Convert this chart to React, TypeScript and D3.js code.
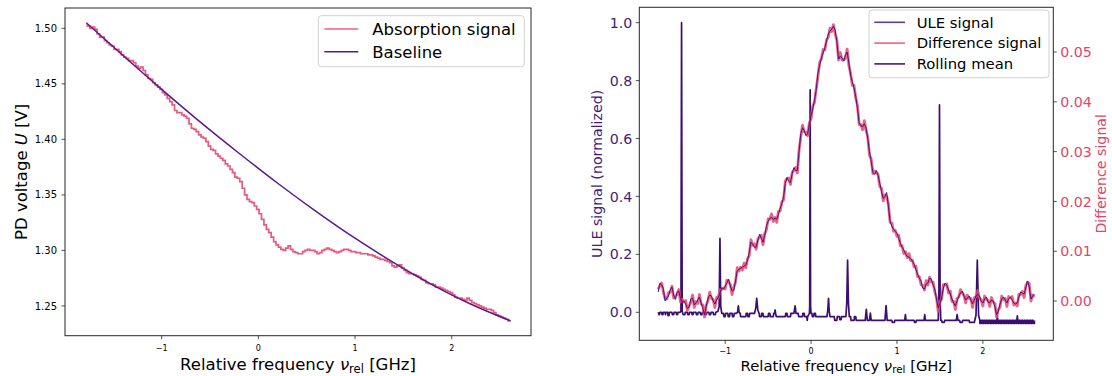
import React from "react";
import * as d3 from "d3";

const FONT = "'DejaVu Sans', sans-serif";

// ---------- Left panel data ----------
const ABS_START = -1.78;
const ABS_STEP = 0.025;
const absorptionSignal = [
  1.503, 1.502, 1.500, 1.501, 1.499, 1.495, 1.492, 1.492, 1.489, 1.487,
  1.485, 1.484, 1.481, 1.481, 1.479, 1.476, 1.474, 1.473, 1.471, 1.471,
  1.469, 1.466, 1.464, 1.465, 1.462, 1.458, 1.455, 1.454, 1.451, 1.449,
  1.447, 1.445, 1.442, 1.440, 1.437, 1.434, 1.431, 1.426, 1.424, 1.424,
  1.422, 1.421, 1.419, 1.414, 1.410, 1.409, 1.407, 1.404, 1.402, 1.401,
  1.398, 1.394, 1.391, 1.390, 1.387, 1.385, 1.383, 1.381, 1.378, 1.376,
  1.373, 1.370, 1.366, 1.365, 1.362, 1.356, 1.350, 1.346, 1.344, 1.343,
  1.340, 1.337, 1.333, 1.328, 1.323, 1.319, 1.316, 1.312, 1.308, 1.305,
  1.303, 1.301, 1.300, 1.302, 1.304, 1.301, 1.299, 1.298, 1.297, 1.297,
  1.299, 1.300, 1.301, 1.300, 1.300, 1.299, 1.297, 1.298, 1.300, 1.301,
  1.302, 1.301, 1.300, 1.299, 1.298, 1.299, 1.300, 1.301, 1.301, 1.300,
  1.299, 1.299, 1.298, 1.298, 1.297, 1.297, 1.297, 1.296, 1.296, 1.295,
  1.294, 1.293, 1.292, 1.292, 1.291, 1.290, 1.289, 1.286, 1.285, 1.286,
  1.287, 1.284, 1.282, 1.280, 1.279, 1.279, 1.278, 1.277, 1.276, 1.274,
  1.273, 1.271, 1.270, 1.270, 1.269, 1.267, 1.267, 1.266, 1.265, 1.264,
  1.263, 1.262, 1.260, 1.258, 1.257, 1.257, 1.256, 1.255, 1.257, 1.255,
  1.253, 1.252, 1.251, 1.250, 1.249, 1.248, 1.247, 1.247, 1.246, 1.244,
  1.242, 1.241, 1.240, 1.239, 1.238, 1.2365,
];

const baseline: [number, number][] = [
  [-1.78, 1.505], [-1.4, 1.4755], [-1.0, 1.445], [-0.6, 1.4155], [-0.2, 1.3875],
  [0.2, 1.3605], [0.6, 1.335], [1.0, 1.311], [1.4, 1.289], [1.8, 1.269],
  [2.2, 1.2515], [2.61, 1.2365],
];

// ---------- Right panel data ----------
const DIFF_START = -1.78;
const DIFF_STEP = 0.02;
const differenceSignal = [
  0.0024, 0.0031, 0.0036, 0.0018, 0.0005, 0.0004, 0.0017, 0.0018, 0.0030, 0.0006,
  0.0009, 0.0013, 0.0023, -0.0002, 0.0003, -0.0002, 0.0001, -0.0019, -0.0010, -0.0002,
  0.0012, -0.0013, -0.0001, -0.0005, 0.0013, -0.0006, -0.0008, -0.0032, -0.0008, 0.0000,
  0.0018, 0.0005, 0.0003, -0.0013, 0.0007, 0.0006, 0.0023, 0.0023, 0.0026, 0.0024,
  0.0042, 0.0039, 0.0033, 0.0013, 0.0027, 0.0038, 0.0067, 0.0060, 0.0068, 0.0062,
  0.0076, 0.0067, 0.0085, 0.0091, 0.0123, 0.0112, 0.0115, 0.0104, 0.0124, 0.0128,
  0.0132, 0.0113, 0.0135, 0.0143, 0.0165, 0.0164, 0.0175, 0.0160, 0.0168, 0.0158,
  0.0180, 0.0181, 0.0199, 0.0203, 0.0241, 0.0246, 0.0247, 0.0234, 0.0258, 0.0262,
  0.0268, 0.0257, 0.0303, 0.0329, 0.0353, 0.0340, 0.0339, 0.0332, 0.0358, 0.0366,
  0.0392, 0.0399, 0.0427, 0.0451, 0.0479, 0.0486, 0.0505, 0.0504, 0.0524, 0.0530,
  0.0548, 0.0541, 0.0555, 0.0537, 0.0525, 0.0484, 0.0499, 0.0484, 0.0484, 0.0488,
  0.0506, 0.0473, 0.0457, 0.0433, 0.0433, 0.0408, 0.0393, 0.0354, 0.0354, 0.0344,
  0.0362, 0.0343, 0.0329, 0.0293, 0.0285, 0.0256, 0.0261, 0.0258, 0.0254, 0.0230,
  0.0226, 0.0201, 0.0213, 0.0211, 0.0195, 0.0158, 0.0157, 0.0140, 0.0142, 0.0130,
  0.0132, 0.0111, 0.0111, 0.0095, 0.0099, 0.0087, 0.0095, 0.0081, 0.0082, 0.0068,
  0.0070, 0.0049, 0.0049, 0.0033, 0.0031, 0.0022, 0.0041, 0.0032, 0.0048, 0.0038,
  0.0038, 0.0019, 0.0007, -0.0021, -0.0001, 0.0004, 0.0033, 0.0032, 0.0034, 0.0016,
  0.0020, -0.0001, -0.0001, -0.0017, 0.0005, 0.0008, 0.0023, 0.0016, 0.0012, -0.0004,
  0.0012, 0.0005, 0.0005, -0.0013, 0.0007, 0.0008, 0.0021, 0.0006, 0.0002, -0.0010,
  0.0010, 0.0003, 0.0001, -0.0011, 0.0007, -0.0002, -0.0005, -0.0032, -0.0018, -0.0012,
  0.0010, 0.0003, 0.0005, -0.0011, 0.0009, 0.0006, 0.0009, -0.0008, -0.0004, -0.0010,
  0.0014, 0.0013, 0.0019, 0.0007, 0.0031, 0.0038, 0.0035, 0.0000, 0.0012, 0.0008,
];

const rollingMean = [
  0.0018, 0.0036, 0.0033, 0.0025, 0.0000, 0.0006, 0.0010, 0.0022, 0.0028, 0.0012,
  0.0003, 0.0018, 0.0020, 0.0005, -0.0002, 0.0000, -0.0006, -0.0015, -0.0012, 0.0004,
  0.0006, -0.0008, -0.0004, 0.0002, 0.0008, -0.0004, -0.0015, -0.0028, -0.0010, 0.0006,
  0.0012, 0.0010, 0.0000, -0.0006, 0.0002, 0.0008, 0.0016, 0.0027, 0.0024, 0.0030,
  0.0036, 0.0044, 0.0030, 0.0020, 0.0022, 0.0040, 0.0060, 0.0064, 0.0066, 0.0068,
  0.0070, 0.0072, 0.0082, 0.0098, 0.0118, 0.0114, 0.0108, 0.0108, 0.0122, 0.0134,
  0.0126, 0.0118, 0.0132, 0.0150, 0.0160, 0.0166, 0.0168, 0.0164, 0.0166, 0.0164,
  0.0174, 0.0186, 0.0196, 0.0210, 0.0236, 0.0248, 0.0240, 0.0238, 0.0256, 0.0268,
  0.0262, 0.0262, 0.0300, 0.0336, 0.0348, 0.0342, 0.0332, 0.0336, 0.0356, 0.0372,
  0.0386, 0.0404, 0.0424, 0.0458, 0.0474, 0.0488, 0.0498, 0.0508, 0.0522, 0.0536,
  0.0542, 0.0546, 0.0552, 0.0544, 0.0520, 0.0486, 0.0492, 0.0488, 0.0482, 0.0494,
  0.0500, 0.0478, 0.0454, 0.0440, 0.0428, 0.0410, 0.0386, 0.0358, 0.0352, 0.0350,
  0.0356, 0.0348, 0.0326, 0.0300, 0.0280, 0.0258, 0.0254, 0.0262, 0.0252, 0.0236,
  0.0220, 0.0206, 0.0210, 0.0218, 0.0190, 0.0160, 0.0150, 0.0144, 0.0140, 0.0136,
  0.0126, 0.0116, 0.0108, 0.0102, 0.0094, 0.0089, 0.0088, 0.0085, 0.0080, 0.0074,
  0.0064, 0.0054, 0.0046, 0.0040, 0.0026, 0.0024, 0.0034, 0.0036, 0.0046, 0.0044,
  0.0032, 0.0024, 0.0004, -0.0014, -0.0006, 0.0006, 0.0026, 0.0036, 0.0032, 0.0022,
  0.0014, 0.0004, -0.0004, -0.0010, 0.0000, 0.0010, 0.0016, 0.0020, 0.0010, 0.0002,
  0.0006, 0.0010, 0.0002, -0.0006, 0.0002, 0.0010, 0.0014, 0.0010, 0.0000, -0.0004,
  0.0004, 0.0008, -0.0002, -0.0004, 0.0002, 0.0000, -0.0012, -0.0028, -0.0020, -0.0006,
  0.0004, 0.0008, 0.0002, -0.0004, 0.0004, 0.0008, 0.0002, -0.0004, -0.0006, -0.0004,
  0.0008, 0.0018, 0.0016, 0.0014, 0.0026, 0.0040, 0.0028, 0.0004, 0.0010, 0.0014,
];

const uleSignal: [number, number][] = [
  [-1.78, 0], [-1.77, -0.008], [-1.765, -0.008], [-1.76, 0], [-1.74, 0], [-1.735, -0.008], [-1.725, -0.008],
  [-1.72, 0], [-1.70, 0], [-1.695, -0.008], [-1.69, 0], [-1.67, 0], [-1.665, -0.012], [-1.655, -0.012],
  [-1.65, 0], [-1.62, 0], [-1.615, -0.008], [-1.60, -0.008], [-1.595, 0], [-1.57, 0], [-1.565, -0.008],
  [-1.555, -0.008], [-1.55, 0], [-1.525, 0],
  [-1.515, 0.004], [-1.508, 1.0], [-1.501, 0.004],
  [-1.49, -0.008], [-1.47, -0.008], [-1.465, 0], [-1.44, 0], [-1.435, -0.008], [-1.42, -0.008], [-1.415, 0],
  [-1.39, 0], [-1.385, -0.008], [-1.375, -0.008], [-1.37, 0], [-1.34, 0], [-1.335, -0.008], [-1.32, -0.008],
  [-1.315, 0], [-1.29, 0], [-1.285, -0.008], [-1.27, -0.008], [-1.265, 0], [-1.24, 0], [-1.235, -0.008],
  [-1.22, -0.008], [-1.215, 0], [-1.19, 0], [-1.185, -0.008], [-1.17, -0.008], [-1.165, 0], [-1.14, 0],
  [-1.135, -0.008], [-1.115, -0.008], [-1.11, 0], [-1.085, 0.003],
  [-1.07, 0.02], [-1.061, 0.255], [-1.052, 0.02],
  [-1.04, -0.004], [-1.02, -0.004], [-1.015, -0.015], [-1.0, -0.015], [-0.995, -0.004], [-0.97, -0.004],
  [-0.965, -0.015], [-0.95, -0.015], [-0.945, -0.004], [-0.92, -0.004], [-0.915, -0.015], [-0.90, -0.015],
  [-0.895, -0.004], [-0.87, -0.004], [-0.856, 0.0], [-0.847, 0.022], [-0.838, 0.0], [-0.825, -0.004],
  [-0.82, -0.015], [-0.76, -0.015], [-0.755, -0.004], [-0.74, -0.004], [-0.735, -0.015], [-0.72, -0.015],
  [-0.715, -0.004], [-0.66, -0.004], [-0.645, 0.012], [-0.633, 0.048], [-0.62, 0.008], [-0.605, -0.004],
  [-0.60, -0.015], [-0.58, -0.015], [-0.575, -0.004], [-0.56, -0.004], [-0.555, -0.015], [-0.50, -0.015],
  [-0.495, -0.004], [-0.48, -0.004], [-0.475, -0.015], [-0.44, -0.015], [-0.435, -0.004], [-0.425, -0.004],
  [-0.419, 0.008], [-0.413, -0.004], [-0.405, -0.015], [-0.30, -0.015], [-0.295, -0.004], [-0.28, -0.004],
  [-0.275, -0.015], [-0.24, -0.015], [-0.235, -0.004], [-0.20, -0.004], [-0.186, 0.022], [-0.175, -0.004],
  [-0.15, -0.004], [-0.145, -0.015], [-0.10, -0.015], [-0.095, -0.004], [-0.08, -0.004], [-0.075, -0.015],
  [-0.05, -0.015], [-0.045, -0.028], [-0.04, -0.015], [-0.02, -0.004],
  [-0.016, 0.02], [-0.011, 0.768], [-0.006, 0.02],
  [0.0, -0.004], [0.01, -0.004], [0.015, -0.015], [0.03, -0.015], [0.035, -0.004], [0.05, -0.004],
  [0.055, -0.015], [0.185, -0.015], [0.195, 0.008], [0.203, 0.048], [0.211, 0.004], [0.22, -0.015],
  [0.27, -0.015], [0.275, -0.028], [0.30, -0.028], [0.305, -0.015], [0.33, -0.015], [0.335, -0.025],
  [0.35, -0.025], [0.355, -0.015], [0.405, -0.015],
  [0.415, 0.03], [0.425, 0.18], [0.435, 0.03],
  [0.445, -0.015], [0.46, -0.015], [0.465, -0.028], [0.50, -0.028], [0.505, -0.015], [0.52, -0.015],
  [0.525, -0.028], [0.63, -0.028], [0.643, 0.01], [0.655, -0.028], [0.68, -0.028], [0.69, -0.003],
  [0.70, -0.028], [0.86, -0.028], [0.873, 0.023], [0.886, -0.028], [0.94, -0.028], [0.945, -0.035],
  [0.97, -0.035], [0.975, -0.028], [1.09, -0.028], [1.098, -0.008], [1.106, -0.028], [1.20, -0.028],
  [1.205, -0.035], [1.22, -0.035], [1.225, -0.028], [1.315, -0.028], [1.323, -0.008], [1.331, -0.028],
  [1.48, -0.028],
  [1.488, 0.05], [1.495, 0.716], [1.502, 0.05],
  [1.51, -0.028], [1.52, -0.028], [1.525, -0.035], [1.55, -0.035], [1.555, -0.028], [1.69, -0.028],
  [1.70, -0.008], [1.71, -0.028], [1.73, -0.028], [1.735, -0.035], [1.76, -0.035], [1.765, -0.028],
  [1.84, -0.028], [1.845, -0.035], [1.90, -0.035],
  [1.92, -0.01], [1.935, 0.18], [1.95, -0.01],
  [1.965, -0.028], [1.965, -0.038], [1.98, -0.038], [1.98, -0.028], [1.995, -0.028], [1.995, -0.038],
  [2.01, -0.038], [2.01, -0.028], [2.025, -0.028], [2.025, -0.038], [2.04, -0.038], [2.04, -0.028],
  [2.055, -0.028], [2.055, -0.038], [2.07, -0.038], [2.07, -0.028], [2.085, -0.028], [2.085, -0.038],
  [2.10, -0.038], [2.10, -0.028], [2.115, -0.028], [2.115, -0.038], [2.13, -0.038], [2.13, -0.028],
  [2.145, -0.028], [2.145, -0.038], [2.16, -0.038], [2.168, -0.012], [2.176, -0.038], [2.19, -0.038],
  [2.19, -0.028], [2.205, -0.028], [2.205, -0.038], [2.22, -0.038], [2.22, -0.028], [2.235, -0.028],
  [2.235, -0.038], [2.25, -0.038], [2.25, -0.028], [2.265, -0.028], [2.265, -0.038], [2.28, -0.038],
  [2.28, -0.028], [2.295, -0.028], [2.295, -0.038], [2.31, -0.038], [2.31, -0.028], [2.325, -0.028],
  [2.325, -0.038], [2.34, -0.038], [2.34, -0.028], [2.355, -0.028], [2.355, -0.038], [2.37, -0.038],
  [2.37, -0.028], [2.385, -0.028], [2.385, -0.038], [2.393, -0.038], [2.401, -0.012], [2.409, -0.038],
  [2.42, -0.038], [2.42, -0.028], [2.435, -0.028], [2.435, -0.038], [2.45, -0.038], [2.45, -0.028],
  [2.465, -0.028], [2.465, -0.038], [2.48, -0.038], [2.48, -0.028], [2.495, -0.028], [2.495, -0.038],
  [2.51, -0.038], [2.51, -0.028], [2.525, -0.028], [2.525, -0.038], [2.54, -0.038], [2.54, -0.028],
  [2.555, -0.028], [2.555, -0.038], [2.57, -0.038], [2.57, -0.028], [2.585, -0.028], [2.585, -0.038],
  [2.60, -0.038], [2.60, -0.028],
];

const freqTicks = [-1, 0, 1, 2];
const voltageTicks = [1.25, 1.3, 1.35, 1.4, 1.45, 1.5];
const uleTicks = [0, 0.2, 0.4, 0.6, 0.8, 1.0];
const diffTicks = [0, 0.01, 0.02, 0.03, 0.04, 0.05];

const C_ABS = "#e6486e";
const C_BASE = "#5a1a8e";
const C_ULE = "#3b0f70";
const C_DIFF = "#e6486e";
const C_ROLL = "#51127c";
const C_ULE_TXT = "#3f1d78";
const C_DIFF_TXT = "#e0466b";
const SPINE = "#262626";

const fmtFreq = (d: number) => (d < 0 ? "\u2212" + Math.abs(d) : String(d));

function FreqLabel({ x, y, size }: { x: number; y: number; size: number }) {
  return (
    <text x={x} y={y} fontSize={size} textAnchor="middle" fontFamily={FONT} fill="#000">
      Relative frequency{" "}
      <tspan fontStyle="italic">ν</tspan>
      <tspan fontSize={size * 0.7} dy={size * 0.2}>rel</tspan>
      <tspan dy={-size * 0.2}> [GHz]</tspan>
    </text>
  );
}

function Legend({ x, y, w, h, items, fs, rowH, firstY, lx0, lx1, tx }: any) {
  return (
    <g>
      <rect x={x} y={y} width={w} height={h} rx={3} fill="#fff" fillOpacity={0.8} stroke="#d0d0d0" strokeWidth={1} />
      {items.map((it: any, i: number) => {
        const cy = y + firstY + i * rowH;
        return (
          <g key={i}>
            <line x1={x + lx0} x2={x + lx1} y1={cy} y2={cy} stroke={it.color} strokeWidth={it.w ?? 1.6} strokeOpacity={it.op ?? 1} />
            <text x={x + tx} y={cy + fs * 0.36} fontSize={fs} fontFamily={FONT} fill="#000">{it.label}</text>
          </g>
        );
      })}
    </g>
  );
}

export default function App() {
  // Left panel
  const L = { x0: 65, x1: 531, y0: 8, y1: 335.7 };
  const xL = d3.scaleLinear().domain([-2.0, 2.82]).range([L.x0, L.x1]);
  const yL = d3.scaleLinear().domain([1.2232, 1.5183]).range([L.y1, L.y0]);

  const absPts: [number, number][] = absorptionSignal.map((v, i) => [ABS_START + i * ABS_STEP, v]);
  const absPath = d3.line<[number, number]>().x((d) => xL(d[0])).y((d) => yL(d[1])).curve(d3.curveStep)(absPts) || "";
  const basePath = d3.line<[number, number]>().x((d) => xL(d[0])).y((d) => yL(d[1])).curve(d3.curveMonotoneX)(baseline) || "";

  // Right panel
  const R = { x0: 639.3, x1: 1053.3, y0: 7.3, y1: 340.3 };
  const xR = d3.scaleLinear().domain([-2.0, 2.82]).range([R.x0, R.x1]);
  const yU = d3.scaleLinear().domain([-0.0967, 1.053]).range([R.y1, R.y0]);
  const yD = d3.scaleLinear().domain([-0.00789, 0.05898]).range([R.y1, R.y0]);

  const ulePath = d3.line<[number, number]>().x((d) => xR(d[0])).y((d) => yU(d[1]))(uleSignal) || "";
  const diffPath = d3.line<number>().x((_, i) => xR(DIFF_START + i * DIFF_STEP)).y((d) => yD(d))(differenceSignal) || "";
  const rollPath = d3.line<number>().x((_, i) => xR(DIFF_START + i * DIFF_STEP)).y((d) => yD(d))(rollingMean) || "";

  const tickLen = 3.5;

  return (
    <svg width={1112} height={376} style={{ position: "absolute", left: 0, top: 0, background: "#fff" }}>
      <rect x={0} y={0} width={1112} height={376} fill="#fff" />
      {/* ---------- LEFT ---------- */}
      <path d={absPath} fill="none" stroke={C_ABS} strokeWidth={1.7} strokeOpacity={0.9} />
      <path d={basePath} fill="none" stroke={C_BASE} strokeWidth={1.5} />
      <rect x={L.x0} y={L.y0} width={L.x1 - L.x0} height={L.y1 - L.y0} fill="none" stroke={SPINE} strokeWidth={1} />
      {voltageTicks.map((t) => (
        <g key={"vl" + t}>
          <line x1={L.x0 - tickLen} x2={L.x0} y1={yL(t)} y2={yL(t)} stroke={SPINE} strokeWidth={0.8} />
          <text x={L.x0 - 8} y={yL(t)} dy="0.36em" fontSize={10} textAnchor="end" fontFamily={FONT} fill="#000">
            {d3.format(".2f")(t)}
          </text>
        </g>
      ))}
      {freqTicks.map((t) => (
        <g key={"fl" + t}>
          <line x1={xL(t)} x2={xL(t)} y1={L.y1} y2={L.y1 + tickLen} stroke={SPINE} strokeWidth={0.8} />
          <text x={xL(t)} y={351} fontSize={8} textAnchor="middle" fontFamily={FONT} fill="#000">
            {fmtFreq(t)}
          </text>
        </g>
      ))}
      <FreqLabel x={(L.x0 + L.x1) / 2} y={369.5} size={16.5} />
      <text transform={`translate(27,${(L.y0 + L.y1) / 2}) rotate(-90)`} fontSize={16.5} textAnchor="middle" fontFamily={FONT} fill="#000">
        PD voltage <tspan fontStyle="italic">U</tspan> [V]
      </text>
      <Legend
        x={318.3} y={15.7} w={206} h={51} fs={16.5} rowH={22.7} firstY={13.3} lx0={6} lx1={40} tx={54}
        items={[{ label: "Absorption signal", color: C_ABS, op: 0.85 }, { label: "Baseline", color: C_BASE }]}
      />

      {/* ---------- RIGHT ---------- */}
      <path d={ulePath} fill="none" stroke={C_ULE} strokeWidth={1.7} strokeLinejoin="round" />
      <path d={diffPath} fill="none" stroke={C_DIFF} strokeWidth={2.8} strokeOpacity={0.85} strokeLinejoin="round" />
      <path d={rollPath} fill="none" stroke={C_ROLL} strokeWidth={1.0} strokeLinejoin="round" />
      <rect x={R.x0} y={R.y0} width={R.x1 - R.x0} height={R.y1 - R.y0} fill="none" stroke={SPINE} strokeWidth={1} />
      {uleTicks.map((t) => (
        <g key={"ul" + t}>
          <line x1={R.x0 - tickLen} x2={R.x0} y1={yU(t)} y2={yU(t)} stroke={SPINE} strokeWidth={0.8} />
          <text x={R.x0 - 7} y={yU(t)} dy="0.36em" fontSize={14.2} textAnchor="end" fontFamily={FONT} fill={C_ULE_TXT}>
            {d3.format(".1f")(t)}
          </text>
        </g>
      ))}
      {diffTicks.map((t) => (
        <g key={"dr" + t}>
          <line x1={R.x1} x2={R.x1 + tickLen} y1={yD(t)} y2={yD(t)} stroke={SPINE} strokeWidth={0.8} />
          <text x={R.x1 + 7} y={yD(t)} dy="0.36em" fontSize={14.2} textAnchor="start" fontFamily={FONT} fill={C_DIFF_TXT}>
            {d3.format(".2f")(t)}
          </text>
        </g>
      ))}
      {freqTicks.map((t) => (
        <g key={"fr" + t}>
          <line x1={xR(t)} x2={xR(t)} y1={R.y1} y2={R.y1 + tickLen} stroke={SPINE} strokeWidth={0.8} />
          <text x={xR(t)} y={353.5} fontSize={8} textAnchor="middle" fontFamily={FONT} fill="#000">
            {fmtFreq(t)}
          </text>
        </g>
      ))}
      <FreqLabel x={(R.x0 + R.x1) / 2} y={370.5} size={14.8} />
      <text transform={`translate(601.5,${(R.y0 + R.y1) / 2}) rotate(-90)`} fontSize={14.2} textAnchor="middle" fontFamily={FONT} fill={C_ULE_TXT}>
        ULE signal (normalized)
      </text>
      <text transform={`translate(1106,${(R.y0 + R.y1) / 2}) rotate(-90)`} fontSize={14.2} textAnchor="middle" fontFamily={FONT} fill={C_DIFF_TXT}>
        Difference signal
      </text>
      <Legend
        x={869} y={10} w={180} h={67.7} fs={14.8} rowH={20.8} firstY={12.3} lx0={5.3} lx1={36} tx={47.7}
        items={[
          { label: "ULE signal", color: C_ULE, op: 0.8 },
          { label: "Difference signal", color: C_DIFF, op: 0.85 },
          { label: "Rolling mean", color: C_ROLL },
        ]}
      />
    </svg>
  );
}
